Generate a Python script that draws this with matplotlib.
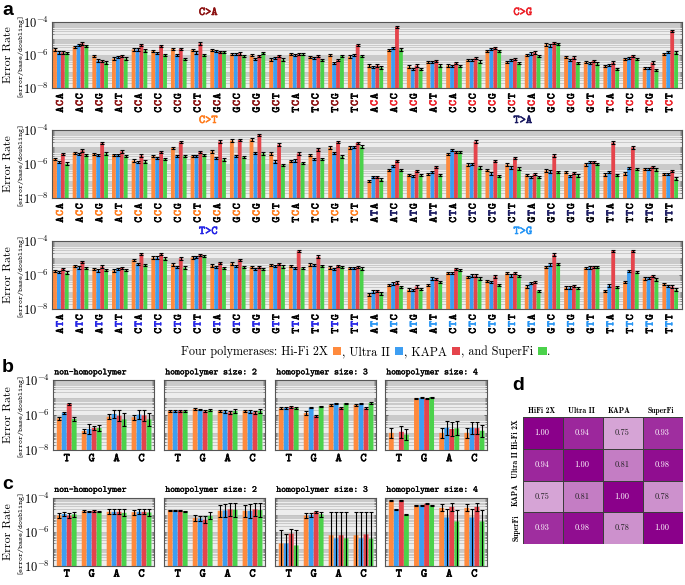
import numpy as np
import matplotlib
matplotlib.use('Agg')
import matplotlib.pyplot as plt
from matplotlib.colors import LinearSegmentedColormap, Normalize
from matplotlib.offsetbox import TextArea, DrawingArea, HPacker, AnchoredOffsetbox
from matplotlib.patches import Rectangle
import matplotlib.patheffects as pe
from matplotlib.ticker import LogLocator, FixedLocator, NullFormatter, FixedFormatter

plt.rcParams['mathtext.fontset'] = 'cm'

# ---------------- data ----------------
POLYMERASES = ['Hi-Fi 2X', 'Ultra II', 'KAPA', 'SuperFi']
POLY_COLORS = ['#ff8a3d', '#3d9ef2', '#e5444c', '#4bd24b']

CTX_C = ['ACA', 'ACC', 'ACG', 'ACT', 'CCA', 'CCC', 'CCG', 'CCT',
         'GCA', 'GCC', 'GCG', 'GCT', 'TCA', 'TCC', 'TCG', 'TCT']
CTX_T = ['ATA', 'ATC', 'ATG', 'ATT', 'CTA', 'CTC', 'CTG', 'CTT',
         'GTA', 'GTC', 'GTG', 'GTT', 'TTA', 'TTC', 'TTG', 'TTT']
MUT_TYPES = ['C>A', 'C>G', 'C>T', 'T>A', 'T>C', 'T>G']
MUT_COLORS = ['#8b1010', '#ec1f27', '#ff7c1c', '#17175f', '#2222e6', '#2394f5']

# log10 error rate; rows: Hi-Fi 2X, Ultra II, KAPA, SuperFi
CA = [[-5.66, -5.50, -6.06, -6.22, -5.66, -5.76, -5.62, -5.68, -5.70, -5.96, -6.02, -6.28, -5.94, -6.12, -6.02, -6.10],
      [-5.84, -5.38, -6.34, -6.12, -5.66, -5.88, -5.98, -5.84, -5.74, -5.96, -6.26, -6.18, -6.02, -6.18, -6.50, -6.02],
      [-5.84, -5.30, -6.38, -6.04, -5.38, -5.46, -5.62, -5.30, -5.82, -5.90, -6.04, -6.04, -5.96, -6.08, -6.32, -5.38],
      [-5.86, -5.44, -6.46, -6.22, -5.72, -5.98, -6.24, -6.00, -5.82, -6.06, -5.86, -6.28, -5.96, -6.30, -6.04, -6.06]]
CG = [[-6.64, -5.70, -6.70, -6.44, -6.64, -6.32, -5.74, -6.44, -6.00, -5.36, -6.12, -6.44, -6.68, -6.24, -6.80, -5.94],
      [-6.74, -5.56, -6.86, -6.44, -6.66, -6.32, -5.64, -6.30, -5.90, -5.42, -6.32, -6.50, -6.62, -6.18, -6.80, -5.82],
      [-6.64, -4.30, -6.64, -6.36, -6.50, -6.20, -5.56, -6.26, -5.84, -5.26, -6.16, -6.36, -6.46, -6.04, -6.46, -4.54],
      [-6.76, -5.66, -6.86, -6.64, -6.68, -6.40, -5.74, -6.50, -6.04, -5.32, -6.48, -6.52, -6.84, -6.24, -6.90, -5.84]]
CT = [[-5.70, -5.34, -5.40, -5.46, -5.80, -5.54, -5.06, -5.52, -5.26, -4.62, -4.56, -5.38, -5.82, -5.48, -5.04, -5.02],
      [-5.90, -5.42, -5.46, -5.46, -5.90, -5.64, -5.52, -5.52, -5.64, -5.52, -5.34, -5.86, -5.80, -5.72, -5.36, -5.00],
      [-5.40, -5.20, -4.78, -5.26, -5.50, -5.30, -4.72, -5.28, -4.68, -4.58, -4.28, -4.86, -5.38, -5.14, -4.72, -4.76],
      [-5.98, -5.48, -5.38, -5.54, -5.86, -5.70, -5.54, -5.48, -5.74, -5.60, -5.38, -6.06, -5.94, -5.72, -5.56, -4.98]]
TA = [[-7.00, -6.36, -6.64, -6.60, -5.42, -6.04, -6.36, -6.04, -6.66, -6.38, -6.48, -6.02, -6.62, -6.56, -6.28, -6.58],
      [-6.76, -6.10, -6.70, -6.46, -5.16, -6.00, -6.56, -6.20, -6.78, -6.44, -6.70, -5.90, -6.48, -6.22, -6.30, -6.58],
      [-6.76, -5.82, -6.40, -6.18, -5.30, -4.68, -5.84, -5.66, -6.60, -5.50, -6.54, -5.88, -4.74, -5.02, -6.16, -6.42],
      [-6.92, -6.36, -6.66, -6.66, -5.30, -6.20, -6.70, -6.26, -6.76, -6.46, -6.68, -6.00, -6.64, -6.30, -6.32, -6.86]]
TC = [[-5.78, -5.46, -5.66, -5.74, -5.12, -4.98, -5.38, -4.96, -5.44, -5.32, -5.52, -5.40, -5.48, -5.38, -5.56, -5.60],
      [-5.84, -5.56, -5.74, -5.64, -5.36, -4.98, -5.52, -4.94, -5.52, -5.46, -5.64, -5.46, -5.58, -5.42, -5.64, -5.58],
      [-5.64, -5.22, -5.50, -5.58, -4.78, -4.78, -5.02, -4.82, -5.28, -5.10, -5.54, -5.34, -4.60, -4.92, -5.46, -5.54],
      [-5.86, -5.60, -5.70, -5.72, -5.42, -5.04, -5.56, -4.90, -5.58, -5.52, -5.66, -5.50, -5.60, -5.46, -5.52, -5.62]]
TG = [[-7.14, -6.60, -6.86, -6.60, -5.88, -6.10, -6.34, -5.90, -6.68, -5.52, -6.74, -5.60, -6.94, -6.42, -6.20, -6.52],
      [-6.98, -6.50, -6.88, -6.20, -5.90, -6.04, -6.40, -6.02, -6.48, -5.38, -6.74, -5.56, -6.62, -5.78, -6.16, -6.66],
      [-6.94, -6.44, -6.68, -6.24, -5.64, -6.04, -6.08, -5.90, -6.42, -4.80, -6.66, -5.52, -4.58, -4.58, -6.06, -6.68],
      [-7.08, -6.70, -6.84, -6.42, -5.70, -6.20, -6.58, -6.06, -6.94, -5.34, -6.78, -5.54, -6.70, -5.84, -6.26, -6.86]]
ERR_A = 0.07  # half-length of error bars in panel a (log10 units)

BASES = ['T', 'G', 'A', 'C']
SUB_TITLES = ['non-homopolymer', 'homopolymer size: 2', 'homopolymer size: 3', 'homopolymer size: 4']

# panel b (log10), rows = polymerases, cols = T G A C
B_NONHP = [[-6.19, -6.91, -6.10, -6.13], [-5.87, -6.80, -5.94, -5.98], [-5.37, -6.74, -6.04, -6.02], [-6.23, -6.74, -6.25, -6.25]]
B_HP2 = [[-5.77, -5.66, -5.77, -5.77], [-5.77, -5.70, -5.79, -5.79], [-5.77, -5.79, -5.85, -5.85], [-5.77, -5.72, -5.77, -5.77]]
B_HP3 = [[-5.62, -5.89, -5.43, -5.43], [-5.60, -5.58, -5.33, -5.35], [-5.54, -6.06, -5.60, -5.62], [-5.60, -5.50, -5.33, -5.31]]
B_HP4 = [[-7.02, -5.04, -7.02, -7.02], [np.nan, -5.02, -6.73, -6.73], [-6.96, -5.08, -6.80, -6.75], [-7.12, -4.98, -6.76, -6.90]]
B_ERR_NONHP = [[0.10, 0.12, 0.15, 0.15], [0.05, 0.30, 0.25, 0.25], [0.03, 0.10, 0.30, 0.30], [0.10, 0.15, 0.35, 0.35]]
B_ERR_HP2 = [[0.08, 0.05, 0.08, 0.08], [0.07, 0.04, 0.09, 0.09], [0.08, 0.05, 0.10, 0.10], [0.08, 0.05, 0.09, 0.09]]
B_ERR_HP3 = [[0.06, 0.10, 0.04, 0.04], [0.04, 0.04, 0.04, 0.04], [0.06, 0.08, 0.06, 0.06], [0.05, 0.04, 0.04, 0.04]]
B_ERR_HP4 = [[0.30, 0.03, 0.30, 0.30], [0.00, 0.03, 0.40, 0.35], [0.35, 0.03, 0.40, 0.35], [0.30, 0.03, 0.40, 0.35]]

# panel c (log10)
C_NONHP = [[-5.06, -4.80, -4.84, -4.86], [-4.97, -4.82, -4.84, -4.84], [-5.06, -4.78, -4.84, -4.84], [-4.99, -4.84, -4.90, -4.88]]
C_HP2 = [[-4.74, -5.20, -4.78, -4.78], [-4.76, -5.24, -4.76, -4.78], [-4.76, -5.30, -4.70, -4.70], [-4.80, -5.08, -4.72, -4.74]]
C_HP3 = [[-6.70, -5.06, -6.22, -6.22], [-6.70, -5.02, -6.40, -6.40], [-6.13, -4.85, -6.22, -6.17], [-6.82, -4.99, -6.40, -6.42]]
C_HP4 = [[-4.20, -4.45, -4.61, -4.61], [-4.69, -4.45, -5.18, -5.18], [-4.16, -4.37, -4.55, -4.55], [-5.00, -4.45, -5.41, -5.41]]
C_ERR_NONHP = [[0.12, 0.06, 0.15, 0.15], [0.10, 0.05, 0.15, 0.15], [0.12, 0.05, 0.15, 0.15], [0.15, 0.04, 0.20, 0.20]]
C_ERR_HP2 = [[0.03, 0.20, 0.35, 0.35], [0.03, 0.15, 0.40, 0.40], [0.03, 0.20, 0.40, 0.40], [0.03, 0.20, 0.40, 0.40]]
C_ERR_HP3_HI = [[0.77, 0.15, 1.37, 1.37], [0.57, 0.10, 1.55, 1.55], [0.30, 0.06, 1.37, 1.32], [0.93, 0.15, 1.55, 1.57]]
C_ERR_HP3_LO = [[3.0, 0.15, 3.0, 3.0], [3.0, 0.10, 3.0, 3.0], [3.0, 0.06, 3.0, 3.0], [3.0, 0.15, 3.0, 3.0]]
C_ERR_HP4_HI = [[0.03, 0.03, 0.20, 0.20], [0.03, 0.03, 0.50, 0.50], [0.03, 0.03, 0.25, 0.25], [0.05, 0.03, 0.70, 0.70]]
C_ERR_HP4_LO = [[0.03, 0.03, 0.20, 0.20], [0.03, 0.03, 3.0, 3.0], [0.03, 0.03, 0.25, 0.25], [0.05, 0.03, 3.0, 3.0]]

# panel d
CORR_LABELS_COL = ['HiFi 2X', 'Ultra II', 'KAPA', 'SuperFi']
CORR_LABELS_ROW = ['Hi-Fi 2X', 'Ultra II', 'KAPA', 'SuperFi']
CORR = [[1.00, 0.94, 0.75, 0.93],
        [0.94, 1.00, 0.81, 0.98],
        [0.75, 0.81, 1.00, 0.78],
        [0.93, 0.98, 0.78, 1.00]]

# ---------------- style ----------------
W, H = 685, 585
SERIF = ['cmr10', 'DejaVu Serif']
SERIF_B = ['cmb10', 'DejaVu Serif']
MONO = ['cmtt10', 'DejaVu Sans Mono']
BG = '#ededed'
GRID = '#c4c4c4'
SPINE = '#555555'
BASE = 1e-10


def rect(l, t, r, b):
    return [l / W, 1 - b / H, (r - l) / W, (b - t) / H]


def bold(col, lw=0.35):
    return [pe.withStroke(linewidth=lw, foreground=col)]


def style_log(ax, show_labels=True):
    ax.set_yscale('log')
    ax.set_ylim(1e-8, 1e-4)
    ax.set_facecolor(BG)
    ax.yaxis.set_major_locator(FixedLocator([1e-8, 1e-6, 1e-4]))
    if show_labels:
        ax.yaxis.set_major_formatter(FixedFormatter([r'$10^{-8}$', r'$10^{-6}$', r'$10^{-4}$']))
    else:
        ax.yaxis.set_major_formatter(NullFormatter())
    ax.yaxis.set_minor_locator(LogLocator(base=10, subs=np.arange(1, 10), numticks=30))
    ax.yaxis.set_minor_formatter(NullFormatter())
    ax.grid(which='both', axis='y', color=GRID, lw=0.6)
    ax.set_axisbelow(True)
    ax.tick_params(axis='y', which='major', direction='in', length=2.5, width=0.6,
                   color=SPINE, labelsize=9, pad=2, right=True)
    ax.tick_params(axis='y', which='minor', direction='in', length=1.3, width=0.4,
                   color=SPINE, right=True)
    ax.tick_params(axis='x', which='both', length=0)
    for s in ax.spines.values():
        s.set_color(SPINE)
        s.set_linewidth(0.8)


def draw_bars(ax, logvals, x, w, err_lo, err_hi, cap=1.2):
    logvals = np.asarray(logvals, dtype=float)
    for k in range(4):
        xs = x + (k - 1.5) * w
        lv = logvals[k]
        v = 10 ** lv
        ax.bar(xs, v - BASE, bottom=BASE, width=w * 0.97, color=POLY_COLORS[k], lw=0,
               zorder=2, snap=False)
        lo = np.asarray(err_lo[k], dtype=float) if np.ndim(err_lo) else np.full(len(lv), err_lo)
        hi = np.asarray(err_hi[k], dtype=float) if np.ndim(err_hi) else np.full(len(lv), err_hi)
        ok = ~np.isnan(lv)
        ax.errorbar(xs[ok], v[ok], yerr=[v[ok] - 10 ** (lv[ok] - lo[ok]), 10 ** (lv[ok] + hi[ok]) - v[ok]],
                    fmt='none', ecolor='black', elinewidth=0.8, capsize=cap, capthick=0.8, zorder=3)


fig = plt.figure(figsize=(W / 100, H / 100), dpi=100)

# ---------------- panel a ----------------
rows = [((CA, CTX_C, 0), (CG, CTX_C, 1), (52, 22, 682, 88)),
        ((CT, CTX_C, 2), (TA, CTX_T, 3), (52, 130, 682, 198)),
        ((TC, CTX_T, 4), (TG, CTX_T, 5), (52, 241, 682, 309))]
PITCH = 4.85
for (ld, lctx, lm), (rd, rctx, rm), r in rows:
    ax = fig.add_axes(rect(*r))
    style_log(ax)
    vals = np.hstack([np.array(ld), np.array(rd)])
    x = np.arange(32)
    draw_bars(ax, vals, x, 0.2, ERR_A, ERR_A, cap=1.1)
    ax.set_xlim(-0.45, 31.6)
    ax.set_xticks([])
    ctxs = lctx + rctx
    for i, c in enumerate(ctxs):
        mcol = MUT_COLORS[lm] if i < 16 else MUT_COLORS[rm]
        for j, ch in enumerate(c):
            col = mcol if j == 1 else 'black'
            dy = -(3.5 + (len(c) - 1 - j + 0.5) * PITCH)
            ax.annotate(ch, xy=(i, 0), xycoords=('data', 'axes fraction'), xytext=(0, dy),
                        textcoords='offset points', rotation=90, ha='center', va='center',
                        fontsize=8, color=col, family=MONO, path_effects=bold(col, 0.45))
    for xc, m in ((7.5, lm), (23.5, rm)):
        ax.annotate(MUT_TYPES[m], xy=(xc, 1), xycoords=('data', 'axes fraction'), xytext=(0, 6.5),
                    textcoords='offset points', ha='center', va='center', fontsize=8.5,
                    color=MUT_COLORS[m], family=MONO, path_effects=bold(MUT_COLORS[m], 0.45))
    yc = (r[1] + r[3]) / 2
    fig.text(8.5 / W, 1 - yc / H, 'Error Rate', rotation=90, ha='center', va='center',
             fontsize=8.5, family=SERIF)
    fig.text(20.5 / W, 1 - yc / H, '[error/base/doubling]', rotation=90, ha='center', va='center',
             fontsize=5.5, family=MONO)

# ---------------- legend line ----------------
parts = []
tp = dict(family=SERIF, size=8.7)
pieces = ['Four polymerases: Hi-Fi 2X', ', Ultra II', ', KAPA', ', and SuperFi']
for k, ptxt in enumerate(pieces):
    parts.append(TextArea(ptxt, textprops=tp))
    da = DrawingArea(9.0, 6.0, 0, 0)
    da.add_artist(Rectangle((3.0, 0), 6.0, 6.0, facecolor=POLY_COLORS[k], edgecolor='none'))
    parts.append(da)
parts.append(TextArea('.', textprops=tp))
box = HPacker(children=parts, align='baseline', pad=0, sep=0.6)
anch = AnchoredOffsetbox(loc='center', child=box, bbox_to_anchor=(366 / W, 1 - 352 / H),
                         bbox_transform=fig.transFigure, frameon=False, pad=0, borderpad=0)
fig.add_artist(anch)

# ---------------- panels b & c ----------------
SUB_X = [(53, 154), (164, 265), (275, 376), (385, 487)]
b_sets = [(B_NONHP, B_ERR_NONHP, B_ERR_NONHP), (B_HP2, B_ERR_HP2, B_ERR_HP2),
          (B_HP3, B_ERR_HP3, B_ERR_HP3), (B_HP4, B_ERR_HP4, B_ERR_HP4)]
c_sets = [(C_NONHP, C_ERR_NONHP, C_ERR_NONHP), (C_HP2, C_ERR_HP2, C_ERR_HP2),
          (C_HP3, C_ERR_HP3_LO, C_ERR_HP3_HI), (C_HP4, C_ERR_HP4_LO, C_ERR_HP4_HI)]
for sets, (top, bot) in ((b_sets, (380, 450)), (c_sets, (497.5, 565.5))):
    for s, ((vals, elo, ehi), (l, r)) in enumerate(zip(sets, SUB_X)):
        ax = fig.add_axes(rect(l, top, r, bot))
        style_log(ax, show_labels=(s == 0))
        draw_bars(ax, vals, np.arange(4), 0.2, elo, ehi, cap=1.5)
        ax.set_xlim(-0.55, 3.5)
        ax.set_xticks(np.arange(4))
        ax.set_xticklabels(BASES, family=MONO, fontsize=8.5)
        for t in ax.get_xticklabels():
            t.set_path_effects(bold('black', 0.45))
        ax.tick_params(axis='x', pad=3)
        ax.annotate(SUB_TITLES[s], xy=(0, 1), xycoords='axes fraction', xytext=(1, 5.5),
                    textcoords='offset points', ha='left', va='center', fontsize=6.6,
                    family=MONO, path_effects=bold('black', 0.2))
    yc = (top + bot) / 2
    fig.text(8.5 / W, 1 - yc / H, 'Error Rate', rotation=90, ha='center', va='center',
             fontsize=8.5, family=SERIF)
    fig.text(20.5 / W, 1 - yc / H, '[error/base/doubling]', rotation=90, ha='center', va='center',
             fontsize=5.5, family=MONO)

# ---------------- panel d ----------------
axd = fig.add_axes(rect(523, 417, 683, 544))
cmap = LinearSegmentedColormap.from_list('purp', ['#d6a4d6', '#8a008a'])
norm = Normalize(vmin=0.75, vmax=1.0)
corr = np.array(CORR)
axd.pcolormesh(np.arange(5), np.arange(5), corr, cmap=cmap, norm=norm,
               edgecolors='#3c3c3c', linewidth=0.7)
axd.set_xlim(0, 4)
axd.set_ylim(4, 0)
axd.axis('off')
for i in range(4):
    for j in range(4):
        v = corr[i, j]
        axd.text(j + 0.47, i + 0.5, f'{v:.2f}', ha='center', va='center', fontsize=6,
                 family=SERIF, color='white' if v > 0.9 else '#222222')
for j, lab in enumerate(CORR_LABELS_COL):
    axd.text(j + 0.12, -0.06, lab, ha='left', va='bottom', fontsize=5.5, family=SERIF_B)
for i, lab in enumerate(CORR_LABELS_ROW):
    axd.text(-0.17, i + 0.08, lab, rotation=90, ha='center', va='top', fontsize=5.5, family=SERIF_B)

# ---------------- panel letters ----------------
for letter, (px, py) in {'a': (2, 2), 'b': (2, 359), 'c': (2, 476), 'd': (512, 377)}.items():
    fig.text(px / W, 1 - py / H, letter, ha='left', va='top', fontsize=14, fontweight='bold',
             family='Liberation Sans')

fig.savefig('out.png', dpi=100)
